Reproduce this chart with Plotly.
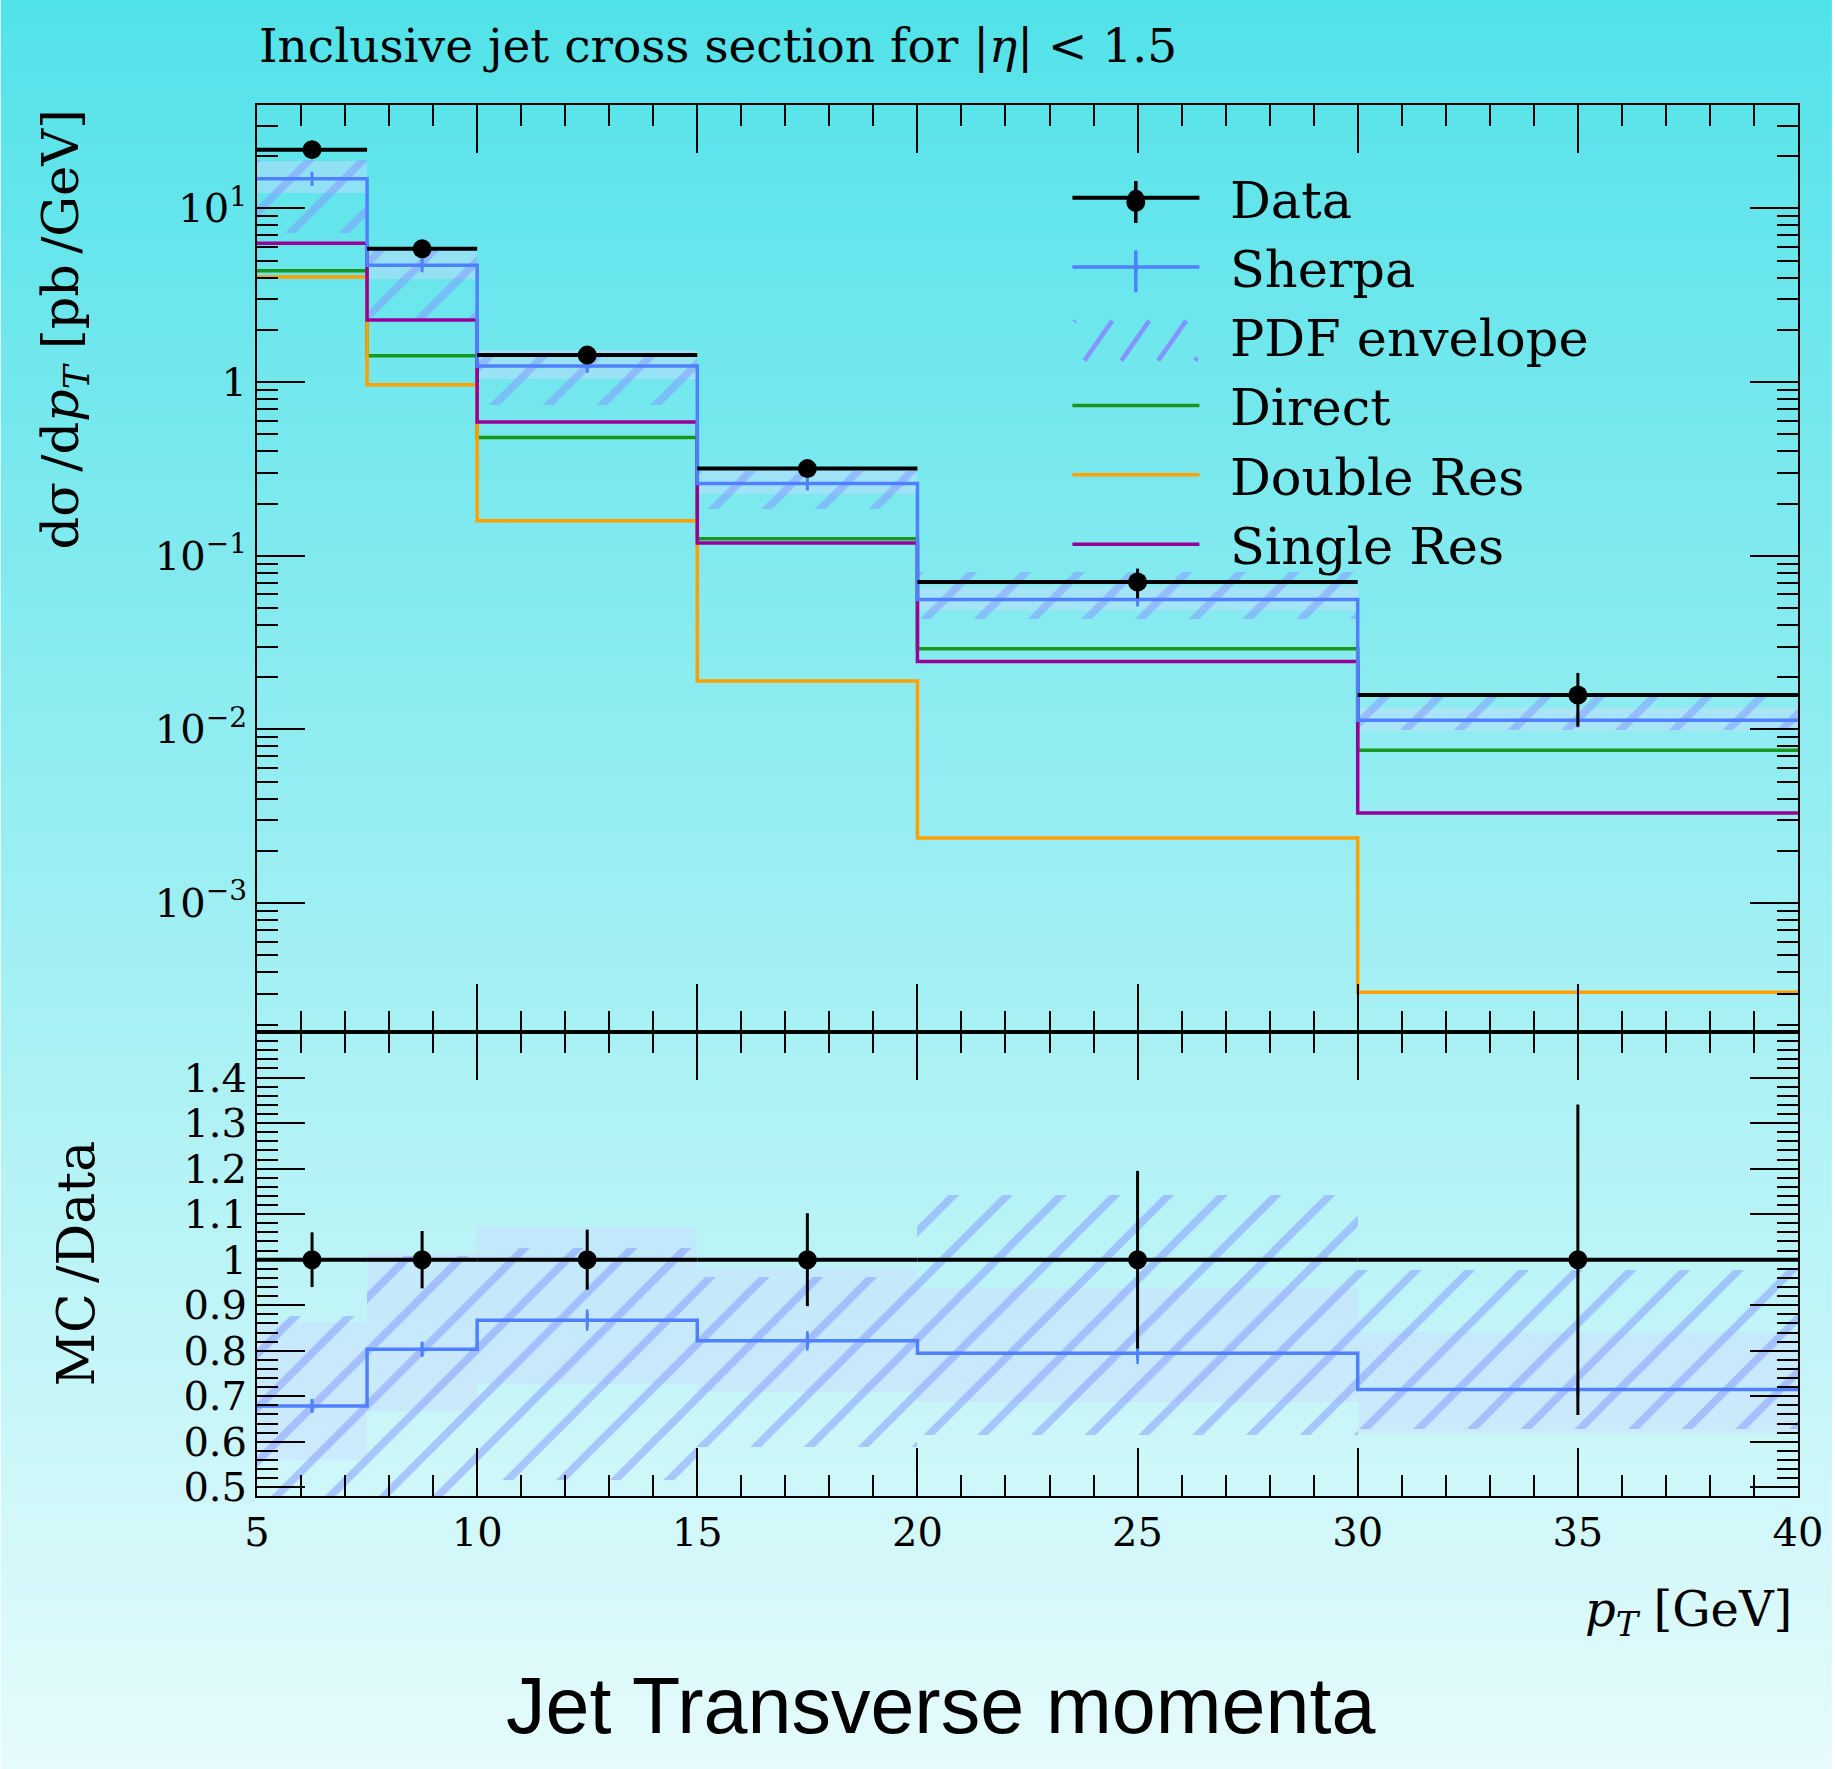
import base64
import plotly.graph_objects as go

# ---------------- data ----------------
bin_edges = [5, 7.5, 10, 15, 20, 30, 40]
data_vals = [21.8, 5.85, 1.43, 0.3176, 0.0706, 0.01578]
data_rel_err = [0.06, 0.063, 0.066, 0.102, 0.195, 0.341]
sherpa_vals = [14.8, 4.70, 1.24, 0.261, 0.0561, 0.01128]
sherpa_rel_err = [0.019, 0.021, 0.027, 0.026, 0.03, 0.008]
band_lo = [12.2, 3.90, 1.04, 0.2255, 0.0486, 0.00977]
band_hi = [18.8, 5.93, 1.534, 0.3116, 0.0662, 0.01329]
pdf_lo = [7.2, 2.35, 0.737, 0.1868, 0.0434, 0.0099]
pdf_hi = [19.1, 5.90, 1.466, 0.3058, 0.0806, 0.01543]
direct_vals = [4.37, 1.42, 0.48, 0.1254, 0.0292, 0.0076]
double_res_vals = [4.03, 0.966, 0.159, 0.019, 0.00237, 3.07e-4]
single_res_vals = [6.3, 2.28, 0.59, 0.1184, 0.0246, 0.0033]

main_tickvals = [1e-3, 1e-2, 1e-1, 1, 10]
main_ticktext = ["10<sup>\u22123</sup>", "10<sup>\u22122</sup>", "10<sup>\u22121</sup>", "1", "10<sup>1</sup>"]
ratio_tickvals = [0.5, 0.6, 0.7, 0.8, 0.9, 1.0, 1.1, 1.2, 1.3, 1.4]
ratio_ticktext = ["0.5", "0.6", "0.7", "0.8", "0.9", "1", "1.1", "1.2", "1.3", "1.4"]

# ---------------- geometry / style ----------------
W, H = 1835, 1769
ML, MR, MT, MB = 257, 34, 105, 273
PW, PH = W - ML - MR, H - MT - MB
BOTTOM = MT + PH
SPLIT = (BOTTOM - 1032) / PH


def px_x(x):
    return (x - ML) / PW


def px_y(y):
    return (BOTTOM - y) / PH


SERIF = "DejaVu Serif"
SANS = "Liberation Sans"
C_DATA = "black"
C_SHERPA = "#4f80ff"
C_DIRECT = "#18961e"
C_DOUBLE = "#ffa000"
C_SINGLE = "#990099"
C_HATCH = "#8296ff"
C_BAND = "rgba(205,220,255,0.45)"

n = len(data_vals)
lo_e = bin_edges[:-1]
hi_e = bin_edges[1:]
centers = [(a + b) / 2 for a, b in zip(lo_e, hi_e)]
widths = [b - a for a, b in zip(lo_e, hi_e)]


def step_xy(vals):
    return list(bin_edges), list(vals) + [vals[-1]]


def seg_xy(vals):
    xs, ys = [], []
    for a, b, v in zip(lo_e, hi_e, vals):
        xs += [a, b, None]
        ys += [v, v, None]
    return xs, ys


def gap_xy(xv, yv, ev):
    xs, ys, es = [], [], []
    for x, y, e in zip(xv, yv, ev):
        xs += [x, None]
        ys += [y, None]
        es += [e, 0]
    return xs, ys, es


HATCH = dict(shape="/", fgcolor=C_HATCH, fillmode="overlay", size=38, solidity=0.2)
SP = "\u2002"

fig = go.Figure()

# ---------------- main panel ----------------
fig.add_trace(go.Bar(x=centers, width=widths, base=band_lo,
                     y=[h - l for h, l in zip(band_hi, band_lo)],
                     marker=dict(color=C_BAND, line=dict(width=0)),
                     showlegend=False, hoverinfo="skip", xaxis="x", yaxis="y"))
fig.add_trace(go.Bar(x=centers, width=widths, base=pdf_lo,
                     y=[h - l for h, l in zip(pdf_hi, pdf_lo)],
                     marker=dict(color="rgba(0,0,0,0)", line=dict(width=0), pattern=HATCH),
                     showlegend=False, legendgroup="pdf", xaxis="x", yaxis="y"))
# legend entry for the PDF envelope (its hatched sample is drawn below as shapes)
fig.add_trace(go.Scatter(x=[None], y=[None], mode="lines", name=SP + "PDF envelope",
                         legendrank=3, legendgroup="pdf",
                         line=dict(color="rgba(0,0,0,0)", width=1), xaxis="x", yaxis="y"))
for vals, col, name, rank in [(direct_vals, C_DIRECT, "Direct", 4),
                              (double_res_vals, C_DOUBLE, "Double Res", 5),
                              (single_res_vals, C_SINGLE, "Single Res", 6)]:
    sx, sy = step_xy(vals)
    fig.add_trace(go.Scatter(x=sx, y=sy, mode="lines", line=dict(color=col, width=3.5, shape="hv"),
                             name=SP + name, legendrank=rank, xaxis="x", yaxis="y"))

sx, sy = step_xy(sherpa_vals)
fig.add_trace(go.Scatter(x=sx, y=sy, mode="lines", line=dict(color=C_SHERPA, width=3.5, shape="hv"),
                         showlegend=False, legendgroup="sherpa", xaxis="x", yaxis="y"))
gx, gy, ge = gap_xy(centers, sherpa_vals, [v * r for v, r in zip(sherpa_vals, sherpa_rel_err)])
fig.add_trace(go.Scatter(x=gx, y=gy, mode="lines+markers", name=SP + "Sherpa", legendrank=2,
                         legendgroup="sherpa",
                         line=dict(color=C_SHERPA, width=3.5),
                         marker=dict(symbol="line-ns-open", size=10, color=C_SHERPA,
                                     line=dict(width=3, color=C_SHERPA)),
                         error_y=dict(type="data", array=ge, thickness=2.5, width=0, color=C_SHERPA),
                         xaxis="x", yaxis="y"))

dx, dy = seg_xy(data_vals)
fig.add_trace(go.Scatter(x=dx, y=dy, mode="lines", line=dict(color=C_DATA, width=4),
                         showlegend=False, legendgroup="data", xaxis="x", yaxis="y"))
gx, gy, ge = gap_xy(centers, data_vals, [v * r for v, r in zip(data_vals, data_rel_err)])
fig.add_trace(go.Scatter(x=gx, y=gy, mode="lines+markers", name=SP + "Data", legendrank=1,
                         legendgroup="data",
                         line=dict(color=C_DATA, width=4),
                         marker=dict(symbol="circle", size=19, color=C_DATA),
                         error_y=dict(type="data", array=ge, thickness=3, width=0, color=C_DATA),
                         xaxis="x", yaxis="y"))

# ---------------- ratio panel ----------------
r_band_lo = [l / d for l, d in zip(band_lo, data_vals)]
r_band_hi = [h / d for h, d in zip(band_hi, data_vals)]
r_pdf_lo = [l / d for l, d in zip(pdf_lo, data_vals)]
r_pdf_hi = [h / d for h, d in zip(pdf_hi, data_vals)]
r_sherpa = [s / d for s, d in zip(sherpa_vals, data_vals)]

fig.add_trace(go.Bar(x=centers, width=widths, base=r_band_lo,
                     y=[h - l for h, l in zip(r_band_hi, r_band_lo)],
                     marker=dict(color=C_BAND, line=dict(width=0)),
                     showlegend=False, hoverinfo="skip", xaxis="x2", yaxis="y2"))
fig.add_trace(go.Bar(x=centers, width=widths, base=r_pdf_lo,
                     y=[h - l for h, l in zip(r_pdf_hi, r_pdf_lo)],
                     marker=dict(color="rgba(0,0,0,0)", line=dict(width=0), pattern=HATCH),
                     showlegend=False, xaxis="x2", yaxis="y2"))
sx, sy = step_xy(r_sherpa)
fig.add_trace(go.Scatter(x=sx, y=sy, mode="lines", line=dict(color=C_SHERPA, width=3.5, shape="hv"),
                         showlegend=False, xaxis="x2", yaxis="y2"))
fig.add_trace(go.Scatter(x=centers, y=r_sherpa, mode="markers",
                         marker=dict(symbol="line-ns-open", size=10, color=C_SHERPA,
                                     line=dict(width=3, color=C_SHERPA)),
                         error_y=dict(type="data", array=[v * r for v, r in zip(r_sherpa, sherpa_rel_err)],
                                      thickness=2.5, width=0, color=C_SHERPA),
                         showlegend=False, xaxis="x2", yaxis="y2"))
ones = [1.0] * n
dx, dy = seg_xy(ones)
fig.add_trace(go.Scatter(x=dx, y=dy, mode="lines", line=dict(color=C_DATA, width=4),
                         showlegend=False, xaxis="x2", yaxis="y2"))
fig.add_trace(go.Scatter(x=centers, y=ones, mode="markers",
                         marker=dict(symbol="circle", size=19, color=C_DATA),
                         error_y=dict(type="data", array=data_rel_err, thickness=3, width=0, color=C_DATA),
                         showlegend=False, xaxis="x2", yaxis="y2"))

# ---------------- legend extras (vertical error ticks, marker, hatched sample) ----------------
LEG_X0, LEG_X1 = 1076, 1199
LEG_C0, LEG_DY = 202, 69.3
LEG_XC = (LEG_X0 + LEG_X1) / 2
shapes = []
for k, col in [(0, C_DATA), (1, C_SHERPA)]:
    yc = LEG_C0 + k * LEG_DY
    shapes.append(dict(type="line", xref="paper", yref="paper",
                       x0=px_x(LEG_XC), x1=px_x(LEG_XC), y0=px_y(yc - 21), y1=px_y(yc + 21),
                       line=dict(color=col, width=3.5)))
shapes.append(dict(type="circle", xref="paper", yref="paper",
                   x0=px_x(LEG_XC - 9.5), x1=px_x(LEG_XC + 9.5),
                   y0=px_y(LEG_C0 + 10), y1=px_y(LEG_C0 - 10),
                   fillcolor=C_DATA, line=dict(width=0)))
yc = LEG_C0 + 2 * LEG_DY
hy0, hy1 = yc + 20, yc - 20  # bottom, top (pixels)
slant, step = 28, 37
for k in range(-2, 6):
    xb = LEG_X0 + 10 + k * step
    t0 = max(0.0, (LEG_X0 - xb) / slant)
    t1 = min(1.0, (LEG_X1 - xb) / slant)
    if t1 <= t0:
        continue
    xa, xe = xb + slant * t0, xb + slant * t1
    ya, ye = hy0 + (hy1 - hy0) * t0, hy0 + (hy1 - hy0) * t1
    shapes.append(dict(type="line", xref="paper", yref="paper",
                       x0=px_x(xa), x1=px_x(xe), y0=px_y(ya), y1=px_y(ye),
                       line=dict(color=C_HATCH, width=4.5)))

# ---------------- axes ----------------
axis_common = dict(showline=True, linewidth=2, linecolor="black", mirror="ticks",
                   ticks="inside", tickwidth=2, tickcolor="black", ticklen=48,
                   showgrid=False, zeroline=False)
minor_common = dict(ticks="inside", ticklen=21, tickwidth=2, tickcolor="black", showgrid=False)
tick_font = dict(family=SERIF, size=40, color="black")

# background gradient as a layout image covering the full figure
svg = (f'<svg xmlns="http://www.w3.org/2000/svg" width="{W}" height="{H}" viewBox="0 0 {W} {H}" '
       f'preserveAspectRatio="none"><defs><linearGradient id="g" x1="0" y1="0" x2="0" y2="1">'
       f'<stop offset="0" stop-color="#52e2e9"/><stop offset="1" stop-color="#e6fbfc"/>'
       f'</linearGradient></defs><rect x="0" y="0" width="{W}" height="{H}" fill="url(#g)"/></svg>')
bg_src = "data:image/svg+xml;base64," + base64.b64encode(svg.encode()).decode()

fig.update_layout(
    width=W, height=H,
    margin=dict(l=ML, r=MR, t=MT, b=MB, pad=0),
    paper_bgcolor="rgba(0,0,0,0)", plot_bgcolor="rgba(0,0,0,0)",
    barmode="overlay", bargap=0,
    font=dict(family=SERIF, color="black"),
    images=[dict(source=bg_src, xref="paper", yref="paper", x=-ML / PW, y=1 + MT / PH,
                 sizex=W / PW, sizey=H / PH, xanchor="left", yanchor="top",
                 sizing="stretch", layer="below")],
    shapes=shapes,
    xaxis=dict(domain=[0, 1], anchor="y", range=[5, 40], tick0=5, dtick=5,
               showticklabels=False, matches="x2",
               minor=dict(dtick=1, **minor_common), **axis_common),
    xaxis2=dict(domain=[0, 1], anchor="y2", range=[5, 40], tick0=5, dtick=5,
                showticklabels=True, tickfont=tick_font,
                minor=dict(dtick=1, **minor_common), **axis_common),
    yaxis=dict(domain=[SPLIT, 1], anchor="x", type="log", range=[-3.742, 1.5955],
               tickmode="array", tickvals=main_tickvals, ticktext=main_ticktext,
               tickfont=tick_font,
               minor=dict(tickmode="array",
                          tickvals=[m * 10 ** e for e in range(-4, 2) for m in range(2, 10)],
                          **minor_common),
               **axis_common),
    yaxis2=dict(domain=[0, SPLIT], anchor="x2", range=[0.481, 1.5],
                tickmode="array", tickvals=ratio_tickvals, ticktext=ratio_ticktext,
                tickfont=tick_font,
                minor=dict(tick0=0.5, dtick=0.02, **minor_common),
                **axis_common),
    legend=dict(x=px_x(1069), y=px_y(158), xanchor="left", yanchor="top",
                bgcolor="rgba(0,0,0,0)", borderwidth=0, itemwidth=127,
                font=dict(family=SERIF, size=51, color="black"), traceorder="normal"),
    annotations=[
        dict(text="Inclusive jet cross section for |<i>\u03b7</i>| &lt; 1.5",
             xref="paper", yref="paper", x=0, y=px_y(45),
             xanchor="left", yanchor="middle", showarrow=False,
             font=dict(family=SERIF, size=47, color="black")),
        dict(text="d\u03c3\u2009/d<i>p</i><sub><i>T</i></sub> [pb\u2009/GeV]",
             xref="paper", yref="paper", x=px_x(64), y=px_y(107),
             xanchor="center", yanchor="top", textangle=-90, showarrow=False,
             font=dict(family=SERIF, size=51, color="black")),
        dict(text="MC\u2009/Data",
             xref="paper", yref="paper", x=px_x(76), y=px_y(1263),
             xanchor="center", yanchor="middle", textangle=-90, showarrow=False,
             font=dict(family=SERIF, size=52, color="black")),
        dict(text="<i>p</i><sub><i>T</i></sub> [GeV]",
             xref="paper", yref="paper", x=px_x(1797), y=px_y(1612),
             xanchor="right", yanchor="middle", showarrow=False,
             font=dict(family=SERIF, size=48, color="black")),
        dict(text="Jet Transverse momenta",
             xref="paper", yref="paper", x=px_x(942), y=px_y(1705),
             xanchor="center", yanchor="middle", showarrow=False,
             font=dict(family=SANS, size=79, color="black")),
    ],
)

fig.write_html("out.html",
               config={"displayModeBar": False},
               post_script="document.body.style.margin='0px';document.body.style.padding='0px';"
                           "document.body.style.overflow='hidden';")
